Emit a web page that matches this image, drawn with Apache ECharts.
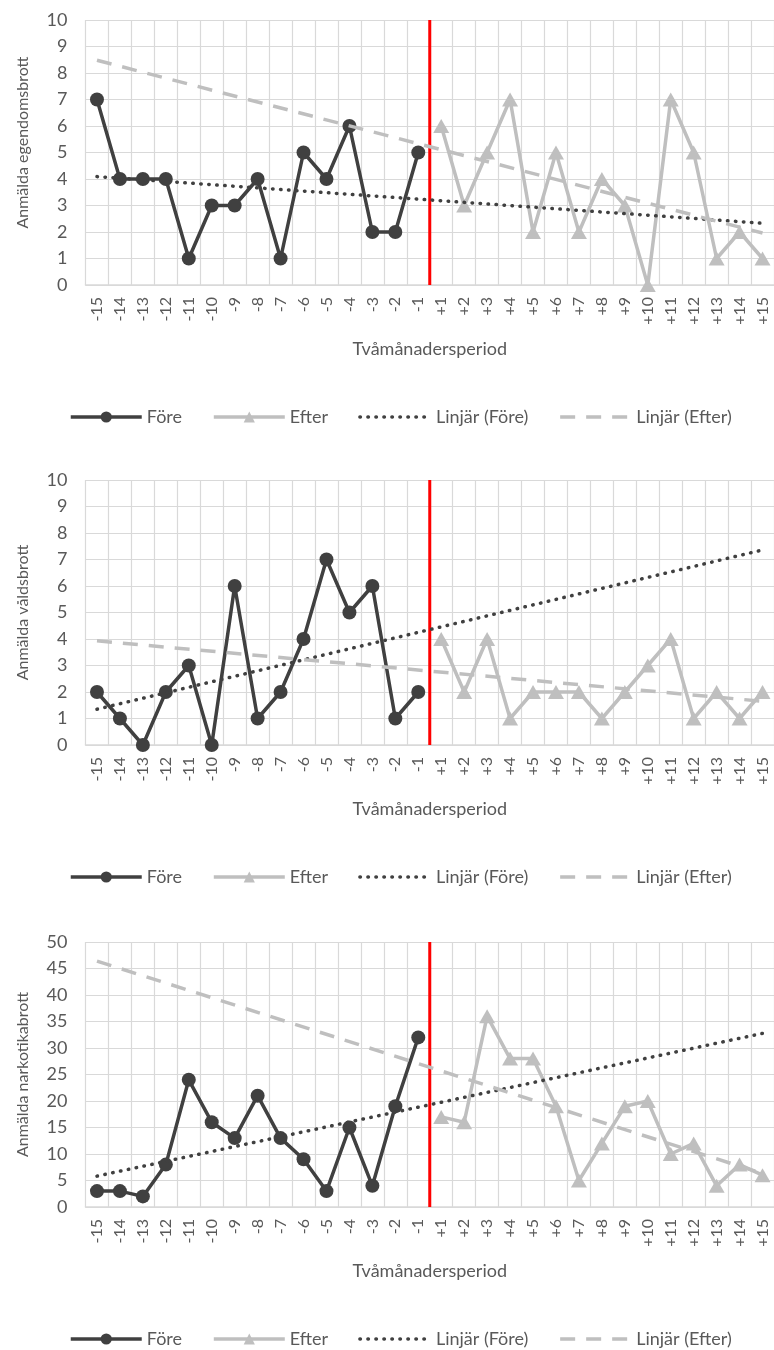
<!DOCTYPE html>
<html>
<head>
<meta charset="utf-8">
<script src="https://cdn.jsdelivr.net/npm/echarts@6/dist/echarts.min.js"></script>
<style>
html,body{margin:0;padding:0;background:#ffffff;}
#chart{width:774px;height:1350px;}
</style>
</head>
<body>
<div id="chart"></div>
<script>
// ---- data ----
const beforeLabels = ['-15','-14','-13','-12','-11','-10','-9','-8','-7','-6','-5','-4','-3','-2','-1'];
const afterLabels  = ['+1','+2','+3','+4','+5','+6','+7','+8','+9','+10','+11','+12','+13','+14','+15'];
const xTitle = 'Tvåmånadersperiod';
const legendNames = ['Före', 'Efter', 'Linjär (Före)', 'Linjär (Efter)'];

const yTitles = ['Anmälda egendomsbrott', 'Anmälda våldsbrott', 'Anmälda narkotikabrott'];
const yMaxes  = [10, 10, 50];
const ySteps  = [1, 1, 5];

const foreEgendom  = [7,4,4,4,1,3,3,4,1,5,4,6,2,2,5];
const efterEgendom = [6,3,5,7,2,5,2,4,3,0,7,5,1,2,1];
const trendForeEgendom  = [4.09, 2.33];
const trendEfterEgendom = [8.48, 1.96];

const foreVald  = [2,1,0,2,3,0,6,1,2,4,7,5,6,1,2];
const efterVald = [4,2,4,1,2,2,2,1,2,3,4,1,2,1,2];
const trendForeVald  = [1.35, 7.36];
const trendEfterVald = [3.93, 1.65];

const foreNarko  = [3,3,2,8,24,16,13,21,13,9,3,15,4,19,32];
const efterNarko = [17,16,36,28,28,19,5,12,19,20,10,12,4,8,6];
const trendForeNarko  = [5.83, 32.76];
const trendEfterNarko = [46.4, 6.33];

const panels = [
  {fore: foreEgendom, efter: efterEgendom, tF: trendForeEgendom, tE: trendEfterEgendom},
  {fore: foreVald,    efter: efterVald,    tF: trendForeVald,    tE: trendEfterVald},
  {fore: foreNarko,   efter: efterNarko,   tF: trendForeNarko,   tE: trendEfterNarko}
];

// ---- chart ----
const categories = beforeLabels.concat(afterLabels);
const FONT = 'Lato, "Open Sans", sans-serif';
const TXT = '#595959';
const DARK = '#404040';
const LIGHT = '#BFBFBF';
const GRIDC = '#D9D9D9';
const gridTops = [20, 480, 942];
const gridH = 265;

const legendData = legendNames.map((n, i) =>
  i < 2 ? {name: n} : {name: n, itemStyle: {opacity: 0}});

const option = {
  animation: false,
  backgroundColor: '#ffffff',
  textStyle: {fontFamily: FONT, color: TXT},
  grid: [], xAxis: [], yAxis: [], legend: [], series: []
};

panels.forEach((p, k) => {
  option.grid.push({left: 85.5, top: gridTops[k], width: 693, height: gridH, containLabel: false});
  option.xAxis.push({
    type: 'category', gridIndex: k, data: categories, boundaryGap: true,
    axisLine: {show: true, lineStyle: {color: GRIDC, width: 1.5}},
    axisTick: {show: false},
    axisLabel: {interval: 0, rotate: 90, fontSize: 16, color: TXT, margin: 12, fontFamily: FONT},
    splitLine: {show: true, interval: 0, lineStyle: {color: GRIDC, width: 1.2}},
    name: xTitle, nameLocation: 'middle', nameGap: 55,
    nameTextStyle: {fontSize: 18, color: TXT, fontFamily: FONT}
  });
  option.xAxis.push({type: 'value', gridIndex: k, min: 0, max: categories.length, show: false});
  option.yAxis.push({
    type: 'value', gridIndex: k, min: 0, max: yMaxes[k], interval: ySteps[k],
    axisLine: {show: false}, axisTick: {show: false},
    axisLabel: {fontSize: 18, color: TXT, margin: 18, fontFamily: FONT},
    splitLine: {show: true, lineStyle: {color: GRIDC, width: 1.2}},
    name: yTitles[k], nameLocation: 'middle', nameGap: 55, nameRotate: 90,
    nameTextStyle: {fontSize: 16, color: TXT, fontFamily: FONT,
      padding: k === 0 ? [0, 0, 0, 20] : 0}
  });
  option.legend.push({
    data: legendData, left: 64, top: gridTops[k] + gridH + 118,
    itemWidth: 71, itemHeight: 14, itemGap: 30,
    lineStyle: {width: 3.5},
    textStyle: {fontSize: 18, color: TXT, fontFamily: FONT},
    selectedMode: false
  });
  const xi = 2 * k;
  // intervention divider
  option.series.push({
    name: 'Gräns', type: 'line', xAxisIndex: xi + 1, yAxisIndex: k,
    data: [[beforeLabels.length, 0], [beforeLabels.length, yMaxes[k]]],
    symbol: 'none', silent: true, z: 2,
    lineStyle: {color: '#FF0000', width: 3}
  });
  option.series.push({
    name: 'Före', type: 'line', xAxisIndex: xi, yAxisIndex: k,
    data: beforeLabels.map((c, i) => [c, p.fore[i]]),
    symbol: 'circle', symbolSize: 14, z: 3,
    itemStyle: {color: DARK}, lineStyle: {color: DARK, width: 3.5}
  });
  option.series.push({
    name: 'Efter', type: 'line', xAxisIndex: xi, yAxisIndex: k,
    data: afterLabels.map((c, i) => [c, p.efter[i]]),
    symbol: 'triangle', symbolSize: [16, 14], z: 3,
    itemStyle: {color: LIGHT}, lineStyle: {color: LIGHT, width: 3.5}
  });
  option.series.push({
    name: 'Linjär (Före)', type: 'line', xAxisIndex: xi, yAxisIndex: k,
    data: [[categories[0], p.tF[0]], [categories[categories.length - 1], p.tF[1]]],
    symbol: 'none', z: 4, silent: true,
    itemStyle: {color: DARK},
    lineStyle: {color: DARK, width: 3.5, type: [0.5, 7.5], cap: 'round'}
  });
  option.series.push({
    name: 'Linjär (Efter)', type: 'line', xAxisIndex: xi, yAxisIndex: k,
    data: [[categories[0], p.tE[0]], [categories[categories.length - 1], p.tE[1]]],
    symbol: 'none', z: 4, silent: true,
    itemStyle: {color: LIGHT},
    lineStyle: {color: LIGHT, width: 3.5, type: [15, 11]}
  });
});

const chart = echarts.init(document.getElementById('chart'), null, {renderer: 'canvas'});
chart.setOption(option);
</script>
</body>
</html>
